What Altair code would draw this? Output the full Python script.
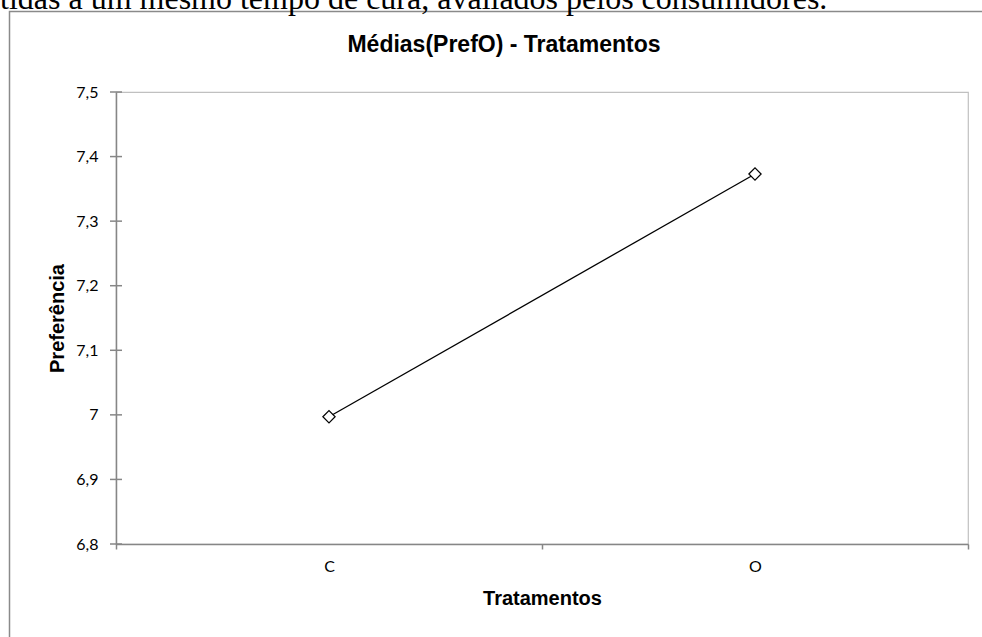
import altair as alt
import pandas as pd

categories = ["C", "O"]
means = [6.997, 7.373]
y_ticks = [6.8, 6.9, 7.0, 7.1, 7.2, 7.3, 7.4, 7.5]
title_text = "Médias(PrefO) - Tratamentos"
x_title = "Tratamentos"
y_title = "Preferência"
caption = "tidas a um mesmo tempo de cura, avaliados pelos consumidores."

df = pd.DataFrame({"trat": categories, "pref": means})
ticks_df = pd.DataFrame({"pref": y_ticks})
one = pd.DataFrame({"k": [0]})

AXIS_GRAY = "#868686"

x_enc = alt.X(
    "trat:N",
    scale=alt.Scale(type="band", domain=categories, paddingInner=0, paddingOuter=0),
    axis=alt.Axis(
        title=x_title, labelAngle=0, tickBand="extent", tickSize=5,
        tickColor=AXIS_GRAY, tickWidth=1.5, domainColor=AXIS_GRAY, domainWidth=1.5,
        labelFont="Lato", labelFontSize=16, labelColor="#000000", labelPadding=9,
        titleFont="Liberation Sans", titleFontSize=20, titleFontWeight="bold",
        titleColor="#000000", titlePadding=14, grid=False,
    ),
)
y_scale = alt.Scale(domain=[6.8, 7.5], nice=False, zero=False)
y_enc = alt.Y(
    "pref:Q",
    scale=y_scale,
    axis=alt.Axis(
        title=y_title, values=y_ticks, ticks=False, grid=False,
        domainColor=AXIS_GRAY, domainWidth=1.5,
        labelExpr="replace(format(datum.value, '~g'), '.', ',')",
        labelFont="Lato", labelFontSize=16, labelColor="#000000", labelPadding=18,
        titleFont="Liberation Sans", titleFontSize=20, titleFontWeight="bold",
        titleColor="#000000", titlePadding=8,
    ),
)

frame = alt.Chart(one).mark_rect(fill=None, stroke="#8a8a8a", strokeWidth=1.5).encode(
    x=alt.value(-106.5), x2=alt.value(880), y=alt.value(-80.5), y2=alt.value(560)
)

cap = alt.Chart(one).mark_text(
    text=caption, align="left", baseline="alphabetic", font="Liberation Serif",
    fontSize=32, color="#000000"
).encode(x=alt.value(-116), y=alt.value(-83))

ttl = alt.Chart(one).mark_text(
    text=title_text, align="center", baseline="middle", font="Liberation Sans",
    fontSize=23, fontWeight="bold", color="#000000"
).encode(x=alt.value(388), y=alt.value(-47))

yticks = alt.Chart(ticks_df).mark_rule(color=AXIS_GRAY, strokeWidth=1.5).encode(
    y=alt.Y("pref:Q", scale=y_scale), x=alt.value(-6), x2=alt.value(6)
)

line = alt.Chart(df).mark_line(color="#000000", strokeWidth=1.3).encode(x=x_enc, y=y_enc)
pts = alt.Chart(df).mark_point(
    shape="diamond", size=150, filled=True, fill="#ffffff", stroke="#000000",
    strokeWidth=1.2, opacity=1
).encode(x=x_enc, y=y_enc)

chart = alt.layer(frame, cap, ttl, line, yticks, pts).properties(
    width=852, height=452,
    autosize=alt.AutoSizeParams(type="none"),
    padding={"left": 116, "top": 92, "right": 14, "bottom": 93},
).configure_view(stroke="#c0c0c0", strokeWidth=1.2)

chart.save("out.html", embed_options={"renderer": "svg", "actions": False})
